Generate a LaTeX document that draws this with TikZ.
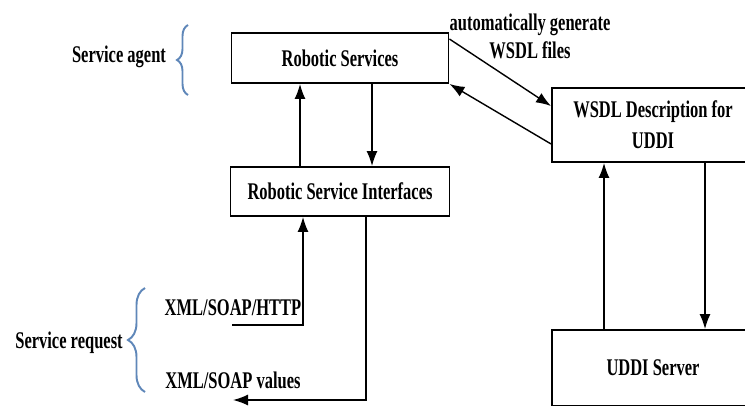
\documentclass[tikz,border=0pt]{standalone}
\usepackage{fontspec}
\setmainfont{Liberation Serif}[FakeStretch=0.69]
\usepackage{xcolor}
\usepackage{tikz}
\usetikzlibrary{calc}
\usetikzlibrary{arrows.meta}
\usetikzlibrary{decorations.pathreplacing}
\definecolor{bracecol}{RGB}{95,135,185}
\tikzset{
	blockbox/.style={draw,line width=1.1pt,align=center},
	tip/.style={thick,-{Latex[length=0.3cm,width=0.22cm]}},
	curly/.style={bracecol,line width=1.1pt,decorate,decoration={brace,amplitude=#1}}
	}

\begin{document}
\begin{tikzpicture}[every node/.style={font=\bfseries\fontsize{13.6}{17.6}\selectfont}]
					\clip (0,0) rectangle (14.9,8.1);
					\node[blockbox,minimum width=4.34cm,minimum height=1cm] (rs) at (6.8,6.94) {Robotic Services};
					\node[blockbox,minimum width=4.38cm,minimum height=0.98cm] (rsi) at (6.8,4.27) {Robotic Service Interfaces};
					\node[blockbox,minimum width=4.04cm,minimum height=1.48cm] (wsdl) at (13.06,5.6) {WSDL Description for\\UDDI};
					\node[blockbox,minimum width=4.04cm,minimum height=1.52cm] (uddi) at (13.06,0.74) {UDDI Server};
					\draw[tip] ([xshift=-0.8cm]rsi.north)--([xshift=-0.8cm]rs.south);
					\draw[tip] ([xshift=0.64cm]rs.south)--([xshift=0.64cm]rsi.north);
					\draw[tip] ([yshift=-0.14cm]rs.north east)--([yshift=-0.38cm]wsdl.north west);
					\draw[tip] ([yshift=0.38cm]wsdl.south west)--(rs.south east);
					\draw[tip] ([xshift=-0.98cm]uddi.north)--([xshift=-0.98cm]wsdl.south);
					\draw[tip] ([xshift=1.04cm]wsdl.south)--([xshift=1.04cm]uddi.north);
					\node[align=center,font=\bfseries\fontsize{13.6}{15.9}\selectfont] (gen) at (10.6,7.38) {automatically generate\\WSDL files};
					\node (agent) at (2.38,6.96) {Service agent};
					\node (request) at (1.38,1.24) {Service request};
					\node (http) at (4.66,1.94) {XML/SOAP/HTTP};
					\node (values) at (4.66,0.5) {XML/SOAP values};
					\coordinate (httpin) at (4.64,1.6);
					\coordinate (valuesout) at (4.66,0.1);
					\draw[tip] (httpin)-|([xshift=-0.74cm]rsi.south);
					\draw[tip] ([xshift=0.52cm]rsi.south)|-(valuesout);
					\draw[curly=0.22cm] (3.76,6.2)--(3.76,7.6);
					\draw[curly=0.34cm] (2.9,0.26)--(2.9,2.34);
				\end{tikzpicture}
\end{document}
